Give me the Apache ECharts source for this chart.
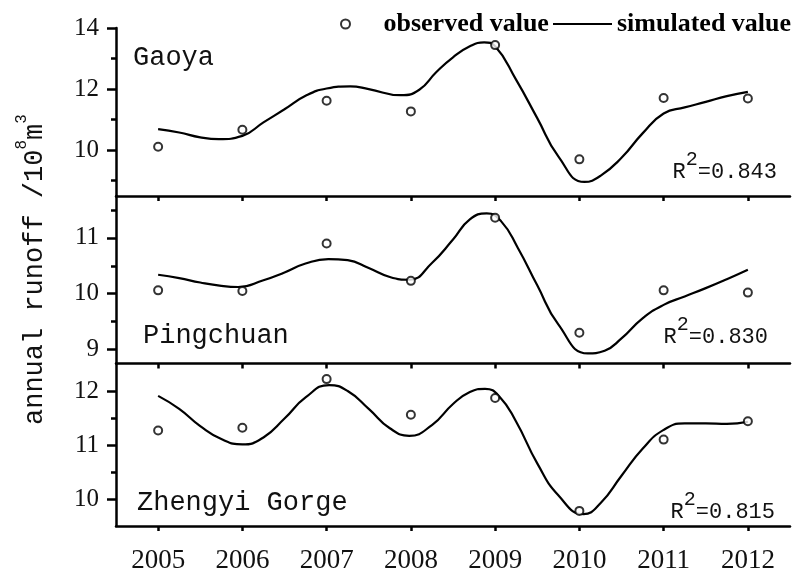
<!DOCTYPE html>
<html>
<head>
<meta charset="utf-8">
<script src="https://cdn.jsdelivr.net/npm/echarts@6/dist/echarts.min.js"></script>
<style>
html,body{margin:0;padding:0;background:#fff;}
#chart{width:792px;height:574px;}
</style>
</head>
<body>
<div id="chart"></div>
<script>
// ---------- data ----------
const years = [2005, 2006, 2007, 2008, 2009, 2010, 2011, 2012];
const panelNames = ['Gaoya', 'Pingchuan', 'Zhengyi Gorge'];
const r2Values = ['0.843', '0.830', '0.815'];

const gaoyaObserved      = [10.11, 10.67, 11.62, 11.27, 13.44, 9.70, 11.71, 11.69];
const pingchuanObserved  = [10.06, 10.05, 10.90, 10.23, 11.36, 9.30, 10.06, 10.02];
const zhengyiObserved    = [11.27, 11.32, 12.22, 11.56, 11.87, 9.78, 11.10, 11.44];

// simulated curves (time position, value)
const gaoyaSimX = [2005, 2005.25, 2005.5, 2005.72, 2006, 2006.25, 2006.5, 2006.75,
                   2007, 2007.28, 2007.5, 2007.88, 2008.1, 2008.3, 2008.5, 2008.7,
                   2008.87, 2009, 2009.25, 2009.5, 2009.75, 2010.06, 2010.25, 2010.5,
                   2010.75, 2011, 2011.25, 2011.5, 2011.75, 2012];
const gaoyaSimulated = [10.69, 10.58, 10.42, 10.36, 10.47, 10.91, 11.34, 11.78,
                        12.02, 12.09, 12.00, 11.80, 11.98, 12.55, 13.04, 13.40,
                        13.53, 13.40, 12.30, 11.05, 9.80, 8.96, 9.16, 9.75,
                        10.55, 11.20, 11.40, 11.58, 11.77, 11.91];
const pingchuanSimX = [2005, 2005.25, 2005.5, 2005.75, 2005.95, 2006.25, 2006.5, 2006.75,
                       2007.02, 2007.25, 2007.5, 2007.75, 2007.98, 2008.25, 2008.5, 2008.7,
                       2008.9, 2009.07, 2009.27, 2009.5, 2009.75, 2010.1, 2010.3, 2010.5,
                       2010.75, 2011, 2011.25, 2011.5, 2011.75, 2012];
const pingchuanSimulated = [10.34, 10.28, 10.20, 10.14, 10.12, 10.24, 10.38, 10.54,
                            10.62, 10.60, 10.46, 10.30, 10.25, 10.55, 10.97, 11.33,
                            11.44, 11.30, 10.82, 10.15, 9.45, 8.93, 8.98, 9.20,
                            9.56, 9.80, 9.95, 10.10, 10.26, 10.43];
const zhengyiSimX = [2005, 2005.25, 2005.5, 2005.75, 2006, 2006.25, 2006.5, 2006.75,
                     2007.03, 2007.25, 2007.5, 2007.75, 2007.98, 2008.25, 2008.5, 2008.7,
                     2008.88, 2009.05, 2009.25, 2009.5, 2009.75, 2010.05, 2010.25, 2010.5,
                     2010.75, 2011, 2011.25, 2011.5, 2011.75, 2012];
const zhengyiSimulated = [11.91, 11.67, 11.35, 11.11, 11.01, 11.14, 11.49, 11.88,
                          12.11, 12.00, 11.67, 11.31, 11.17, 11.37, 11.76, 11.98,
                          12.04, 11.90, 11.43, 10.66, 10.07, 9.72, 9.92, 10.43,
                          10.93, 11.28, 11.40, 11.40, 11.39, 11.43];

const yMin = [8.5, 8.75, 9.5];
const yMax = [14, 11.75, 12.5];
const yMajorTicks = [[10, 12, 14], [9, 10, 11], [10, 11, 12]];
const yMinorTicks = [[9, 11, 13], [9.5, 10.5, 11.5], [10.5, 11.5]];

const observedSets = [gaoyaObserved, pingchuanObserved, zhengyiObserved];
const simXSets = [gaoyaSimX, pingchuanSimX, zhengyiSimX];
const simulatedSets = [gaoyaSimulated, pingchuanSimulated, zhengyiSimulated];

// ---------- layout ----------
const gridBoxes = [
  {left: 116, top: 28, width: 674, height: 168},
  {left: 116, top: 196, width: 674, height: 167.5},
  {left: 116, top: 364, width: 674, height: 168}
];
const labelPos = [[133, 58], [143, 336], [137, 503]];
// right edge and baseline of the R² labels
const r2Pos = [[777, 178], [768, 343], [775, 518]];

const serif = 'Liberation Serif';
const mono = 'Liberation Mono';
const textColor = '#111';

function txt(x, y, s, size, align, rot) {
  return {
    type: 'text', x: x, y: y, rotation: rot || 0,
    style: {text: s, fill: textColor, font: size + 'px "' + mono + '"',
      textAlign: align, textVerticalAlign: 'middle'}
  };
}

const xAxes = [], yAxes = [], series = [], graphics = [];
for (let i = 0; i < 3; i++) {
  xAxes.push({
    gridIndex: i, type: 'value', min: 2004.5, max: 2012.5,
    axisLine: {show: true, onZero: false, lineStyle: {color: '#000', width: 2.5}},
    axisTick: {show: true, inside: false, length: 5, customValues: years, lineStyle: {color: '#000', width: 2.5}},
    axisLabel: {show: i === 2, customValues: years, margin: 21, color: textColor,
      fontFamily: serif, fontSize: 27, formatter: v => String(v)},
    splitLine: {show: false}
  });
  yAxes.push({
    gridIndex: i, type: 'value', position: 'left', min: yMin[i], max: yMax[i],
    axisLine: {show: true, onZero: false, lineStyle: {color: '#000', width: 2.5}},
    axisTick: {show: true, inside: false, length: 9, customValues: yMajorTicks[i], lineStyle: {color: '#000', width: 2.5}},
    axisLabel: {show: true, customValues: yMajorTicks[i], margin: 17, color: textColor,
      fontFamily: serif, fontSize: 25},
    splitLine: {show: false}
  });
  yAxes.push({
    gridIndex: i, type: 'value', position: 'left', min: yMin[i], max: yMax[i],
    axisLine: {show: false},
    axisTick: {show: true, inside: false, length: 5, customValues: yMinorTicks[i], lineStyle: {color: '#000', width: 2.5}},
    axisLabel: {show: false},
    splitLine: {show: false}
  });
  series.push({
    name: 'simulated value', type: 'line', xAxisIndex: i, yAxisIndex: i * 2,
    data: simXSets[i].map((x, k) => [x, simulatedSets[i][k]]),
    smooth: 0.5, symbol: 'none', z: 3,
    lineStyle: {color: '#000', width: 2.2},
    itemStyle: {color: '#000'}
  });
  series.push({
    name: 'observed value', type: 'scatter', xAxisIndex: i, yAxisIndex: i * 2,
    data: years.map((x, k) => [x, observedSets[i][k]]),
    symbol: 'emptyCircle', symbolSize: 8, z: 4,
    itemStyle: {color: '#000', borderColor: '#000', borderWidth: 2}
  });
  graphics.push(txt(labelPos[i][0], labelPos[i][1], panelNames[i], 27, 'left'));
  // R² = value : main text, raised superscript, leading R
  const rx = r2Pos[i][0], by = r2Pos[i][1];
  const mainStr = '=' + r2Values[i];
  const mainLeft = rx - mainStr.length * 0.6 * 22;
  const supLeft = mainLeft - 0.6 * 20;
  graphics.push(txt(rx, by - 6, mainStr, 22, 'right'));
  graphics.push(txt(supLeft, by - 13 - 5.4, '2', 20, 'left'));
  graphics.push(txt(supLeft, by - 6, 'R', 22, 'right'));
}

// rotated y-axis title: annual runoff /10^8 m^3
const titleStart = 425, titleX = 35, supX = 22;
const mainTitle = 'annual runoff /10';
const adv = 0.6 * 27, supAdv = 0.6 * 16;
graphics.push(txt(titleX, titleStart, mainTitle, 27, 'left', Math.PI / 2));
let yy = titleStart - mainTitle.length * adv;
graphics.push(txt(supX, yy, '8', 16, 'left', Math.PI / 2));
yy -= supAdv;
graphics.push(txt(titleX, yy, 'm', 27, 'left', Math.PI / 2));
yy -= adv;
graphics.push(txt(supX, yy, '3', 16, 'left', Math.PI / 2));

const legendText = {fontFamily: serif, fontWeight: 'bold', fontSize: 26, color: '#000'};

const chart = echarts.init(document.getElementById('chart'), null, {renderer: 'canvas'});
chart.setOption({
  animation: false,
  backgroundColor: '#fff',
  legend: [{
    data: [{name: 'observed value', icon: 'emptyCircle'}],
    left: 340, top: 11, padding: 0,
    itemWidth: 66, itemHeight: 9,
    selectedMode: false,
    textStyle: legendText
  }, {
    data: [{name: 'simulated value', icon: 'path://M0,0L60,0L60,2L0,2Z'}],
    left: 553, top: 11, padding: 0,
    itemWidth: 59, itemHeight: 9,
    selectedMode: false,
    textStyle: legendText
  }],
  grid: gridBoxes.map(g => Object.assign({containLabel: false}, g)),
  xAxis: xAxes,
  yAxis: yAxes,
  series: series,
  graphic: graphics
});
</script>
</body>
</html>
